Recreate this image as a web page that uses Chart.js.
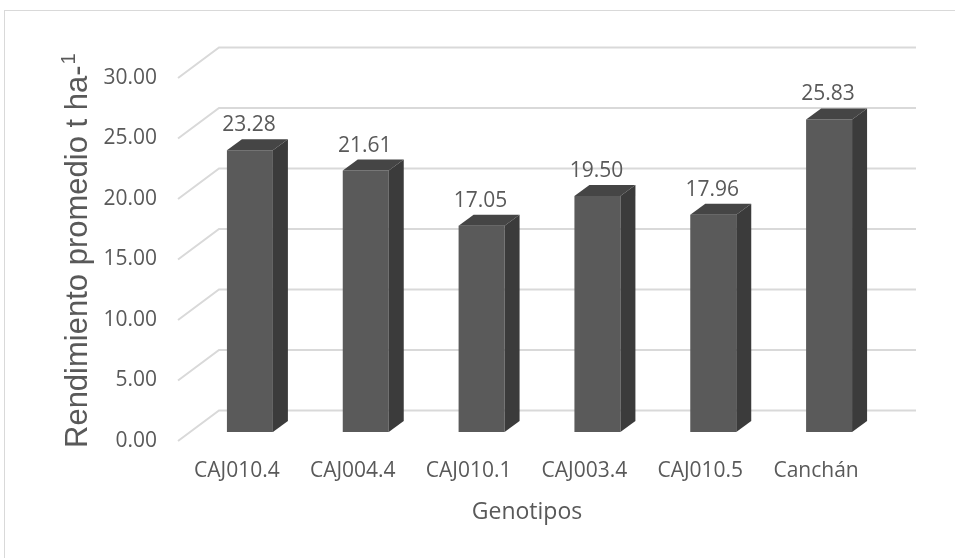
<!DOCTYPE html>
<html>
<head>
<meta charset="utf-8">
<script src="https://cdn.jsdelivr.net/npm/chart.js@4/dist/chart.umd.min.js"></script>
<style>
  html, body { margin: 0; padding: 0; background: #ffffff; }
  canvas { display: block; }
</style>
</head>
<body>
<canvas id="chart" width="955" height="558"></canvas>
<script>
// Genotypes and their mean yield (t/ha)
const genotipos = ['CAJ010.4', 'CAJ004.4', 'CAJ010.1', 'CAJ003.4', 'CAJ010.5', 'Canchán'];
const rendimiento = [23.28, 21.61, 17.05, 19.50, 17.96, 25.83];
const yTicks = [0, 5, 10, 15, 20, 25, 30];

const textColor = '#595959';
const gridColor = '#d9d9d9';
const frontColor = '#5a5a5a';
const topColor = '#454545';
const sideColor = '#3b3b3b';

// perspective offsets
const wallDX = 40, wallDY = -30.5;   // floor/wall depth
const barShiftX = 13, barShiftY = -9; // bars sit mid-depth
const barDX = 15, barDY = -11;        // bar thickness

const box3d = {
  id: 'box3d',
  beforeDraw(chart) {
    const ctx = chart.ctx;
    ctx.save();
    ctx.strokeStyle = gridColor;
    ctx.lineWidth = 1;
    ctx.strokeRect(4.5, 10.5, 1000, 1000);
    ctx.restore();
  },
  beforeDatasetsDraw(chart) {
    const ctx = chart.ctx;
    const y = chart.scales.y;
    const a = chart.chartArea;
    ctx.save();
    ctx.strokeStyle = gridColor;
    ctx.lineWidth = 2;
    yTicks.forEach(v => {
      const fy = y.getPixelForValue(v);
      ctx.beginPath();
      ctx.moveTo(a.left - 1, fy);
      ctx.lineTo(a.left + wallDX, fy + wallDY);
      ctx.lineTo(a.right + 42, fy + wallDY);
      ctx.stroke();
    });
    ctx.restore();
    // shift the bars to their depth position
    ctx.save();
    ctx.translate(barShiftX, barShiftY);
  },
  afterDatasetsDraw(chart) {
    const ctx = chart.ctx;
    const meta = chart.getDatasetMeta(0);
    meta.data.forEach((bar, i) => {
      const p = bar.getProps(['x', 'y', 'base', 'width'], true);
      const x1 = p.x - p.width / 2, x2 = p.x + p.width / 2;
      const yt = p.y, yb = p.base;
      // top face
      ctx.fillStyle = topColor;
      ctx.beginPath();
      ctx.moveTo(x1, yt);
      ctx.lineTo(x2, yt);
      ctx.lineTo(x2 + barDX, yt + barDY);
      ctx.lineTo(x1 + barDX, yt + barDY);
      ctx.closePath();
      ctx.fill();
      // side face
      ctx.fillStyle = sideColor;
      ctx.beginPath();
      ctx.moveTo(x2, yt);
      ctx.lineTo(x2 + barDX, yt + barDY);
      ctx.lineTo(x2 + barDX, yb + barDY);
      ctx.lineTo(x2, yb);
      ctx.closePath();
      ctx.fill();
      // value label
      ctx.fillStyle = textColor;
      ctx.font = '21px "Open Sans"';
      ctx.textAlign = 'center';
      ctx.textBaseline = 'middle';
      ctx.fillText(rendimiento[i].toFixed(2), p.x - 1, yt - 25);
    });
    ctx.restore();
  },
  afterDraw(chart) {
    const ctx = chart.ctx;
    ctx.save();
    // axis titles
    ctx.fillStyle = textColor;
    ctx.font = '23px "Open Sans"';
    ctx.textAlign = 'center';
    ctx.textBaseline = 'middle';
    ctx.fillText('Genotipos', 527, 512);

    ctx.translate(87, 448);
    ctx.rotate(-Math.PI / 2);
    ctx.textAlign = 'left';
    ctx.textBaseline = 'alphabetic';
    ctx.font = '31px "Liberation Sans"';
    const main = 'Rendimiento promedio t ha-';
    ctx.fillText(main, 0, 0);
    const w = ctx.measureText(main).width;
    ctx.font = '20px "Liberation Sans"';
    ctx.fillText('1', w + 1, -12);
    ctx.restore();
  }
};

new Chart(document.getElementById('chart'), {
  type: 'bar',
  data: {
    labels: genotipos,
    datasets: [{
      data: rendimiento,
      backgroundColor: frontColor,
      borderWidth: 0,
      barPercentage: 0.397,
      categoryPercentage: 1,
      clip: false
    }]
  },
  options: {
    responsive: false,
    animation: false,
    events: [],
    layout: { padding: { top: 78, right: 81, bottom: 0, left: 0 } },
    plugins: { legend: { display: false }, tooltip: { enabled: false } },
    scales: {
      x: {
        grid: { display: false, drawTicks: false },
        border: { display: false },
        ticks: {
          color: textColor,
          font: { family: 'Open Sans', size: 21 },
          padding: 17,
          maxRotation: 0,
          autoSkip: false
        },
        afterFit(scale) { scale.height = 117; }
      },
      y: {
        min: 0,
        max: 30,
        grid: { display: false, drawTicks: false },
        border: { display: false },
        ticks: {
          stepSize: 5,
          color: textColor,
          font: { family: 'Open Sans', size: 21 },
          padding: 22,
          callback: v => Number(v).toFixed(2)
        },
        afterFit(scale) { scale.width = 179; }
      }
    }
  },
  plugins: [box3d]
});
</script>
</body>
</html>
